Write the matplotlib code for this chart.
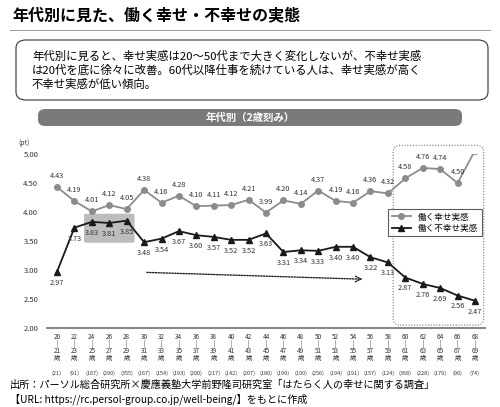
import matplotlib.pyplot as plt
from matplotlib.patches import FancyBboxPatch

plt.rcParams['font.family'] = ['Noto Sans CJK JP', 'DejaVu Sans']

ages_from = list(range(20, 69, 2))
counts = [21, 91, 167, 290, 355, 167, 154, 193, 200, 217, 142, 207, 180,
          199, 190, 256, 194, 191, 157, 124, 368, 228, 179, 90, 74]
happy = [4.43, 4.19, 4.01, 4.12, 4.05, 4.38, 4.16, 4.28, 4.10, 4.11, 4.12, 4.21, 3.99,
         4.20, 4.14, 4.37, 4.19, 4.16, 4.36, 4.32, 4.58, 4.76, 4.74, 4.50, 5.06]
unhappy = [2.97, 3.73, 3.83, 3.81, 3.85, 3.48, 3.54, 3.67, 3.60, 3.57, 3.52, 3.52, 3.63,
           3.31, 3.34, 3.33, 3.40, 3.40, 3.22, 3.13, 2.87, 2.76, 2.69, 2.56, 2.47]
yticks = [2.00, 2.50, 3.00, 3.50, 4.00, 4.50, 5.00]

W, H = 500, 407
fig = plt.figure(figsize=(5, 4.07), dpi=100)


def fx(px):
    return px / W


def fy(py):
    return 1 - py / H


# title
fig.text(fx(12), fy(16), '年代別に見た、働く幸せ・不幸せの実態', fontsize=11.5,
         fontweight='bold', va='center', ha='left')
fig.add_artist(plt.Line2D([fx(10), fx(490)], [fy(30), fy(30)], color='#888888', lw=0.6))

# summary box
fig.add_artist(FancyBboxPatch((fx(16), fy(100)), fx(472), fy(40) - fy(100),
                              boxstyle='round,pad=0,rounding_size=0.02',
                              fc='white', ec='#333333', lw=0.8))
summary = ('年代別に見ると、幸せ実感は20～50代まで大きく変化しないが、不幸せ実感\n'
           'は20代を底に徐々に改善。60代以降仕事を続けている人は、幸せ実感が高く\n'
           '不幸せ実感が低い傾向。')
fig.text(fx(32), fy(70), summary, fontsize=8.2, va='center', ha='left', linespacing=1.3)

# banner
fig.add_artist(FancyBboxPatch((fx(38), fy(126)), fx(424), fy(109) - fy(126),
                              boxstyle='round,pad=0,rounding_size=0.015',
                              fc='#7a7a7a', ec='none'))
fig.text(fx(250), fy(117.5), '年代別（2歳刻み）', color='white', fontsize=7.5,
         fontweight='bold', ha='center', va='center')
fig.text(fx(18), fy(143), '(pt)', fontsize=5, color='#333333', va='center')

# axes
step = (475 - 57) / 24
ax = fig.add_axes([fx(57 - 0.6 * step), fy(328), fx(step * 25.2), fy(154) - fy(328)])
x = list(range(len(ages_from)))
ax.plot(x, happy, color='#8c8c8c', marker='o', ms=4, lw=1.3, label='働く幸せ実感', zorder=3)
ax.plot(x, unhappy, color='#1a1a1a', marker='^', ms=4.5, lw=1.3, label='働く不幸せ実感', zorder=3)
ax.set_xlim(-0.6, 24.6)
ax.set_ylim(2.0, 5.0)
ax.set_yticks(yticks)
ax.set_yticklabels([f'{v:.2f}' for v in yticks], fontsize=5.5, color='#333333')
ax.set_xticks([])
ax.tick_params(axis='y', length=0, pad=6)
for s in ['top', 'right', 'left']:
    ax.spines[s].set_visible(False)
ax.spines['bottom'].set_color('#888888')
ax.spines['bottom'].set_linewidth(1.5)
ax.patch.set_alpha(0)

for i in x:
    ax.annotate(f'{happy[i]:.2f}', (i, happy[i]), xytext=(0, 5), textcoords='offset points',
                ha='center', va='bottom', fontsize=5.3, color='#333333')
    ax.annotate(f'{unhappy[i]:.2f}', (i, unhappy[i]), xytext=(0, -5), textcoords='offset points',
                ha='center', va='top', fontsize=5.3, color='#333333')
    ax.text(i, -0.03, f'{ages_from[i]}\n|\n{ages_from[i] + 1}\n歳', transform=ax.get_xaxis_transform(),
            ha='center', va='top', fontsize=4.6, color='#333333', linespacing=0.82)
    ax.text(i, -0.245, f'({counts[i]})', transform=ax.get_xaxis_transform(),
            ha='center', va='top', fontsize=4.0, color='#333333')

# highlight box for 24-29
ax.add_patch(FancyBboxPatch((1.55, 3.47), 2.9, 0.5, boxstyle='round,pad=0,rounding_size=0.15',
                            fc='#bdbdbd', ec='none', zorder=1, mutation_aspect=0.15))
# dashed box for 60+
ax.add_patch(FancyBboxPatch((19.3, 2.05), 5.2, 3.1, boxstyle='round,pad=0,rounding_size=0.4',
                            fc='none', ec='#777777', ls=(0, (1, 1.5)), lw=0.8,
                            mutation_aspect=0.3, clip_on=False))
# dotted trend arrow
ax.annotate('', xy=(17.7, 2.84), xytext=(5.0, 2.96),
            arrowprops=dict(arrowstyle='->', ls=(0, (1, 1)), color='#222222', lw=1))

leg = ax.legend(loc='center', bbox_to_anchor=(0.885, 0.605), fontsize=6.2, frameon=True,
                fancybox=False, edgecolor='#333333', handlelength=2.2, borderpad=0.4,
                labelspacing=0.3)
leg.get_frame().set_linewidth(0.8)

# source
fig.text(fx(10), fy(385), '出所：パーソル総合研究所×慶應義塾大学前野隆司研究室「はたらく人の幸せに関する調査」',
         fontsize=7.3, va='center', ha='left')
fig.text(fx(10), fy(399), '【URL: https://rc.persol-group.co.jp/well-being/】をもとに作成',
         fontsize=7.3, va='center', ha='left')

fig.savefig('out.png', dpi=100)
